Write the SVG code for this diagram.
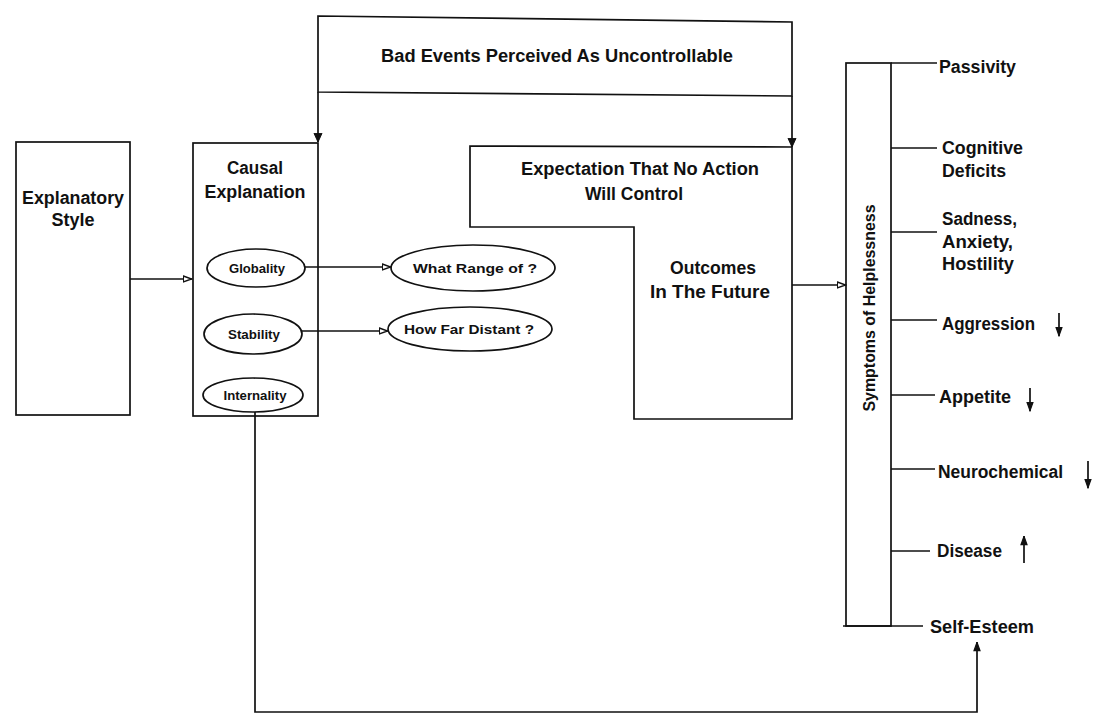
<svg xmlns="http://www.w3.org/2000/svg" width="1094" height="715" viewBox="0 0 1094 715">
<defs>
<style>
.ln{fill:none;stroke:#111;stroke-width:1.7}
.sh{fill:#fff;stroke:#111;stroke-width:1.7}
.t{font-family:"Liberation Sans",Arial,sans-serif;font-weight:bold;fill:#111}
.l{font-size:17.5px}
.m{font-size:16.5px}
.s{font-size:13px}
.c{text-anchor:middle}
</style>
<marker id="ah" viewBox="0 0 10 8" refX="9.5" refY="4" markerWidth="10" markerHeight="8" markerUnits="userSpaceOnUse" orient="auto">
<path d="M0.8,1 L9.2,4 L0.8,7 Z" fill="#fff" stroke="#111" stroke-width="1.4"/>
</marker>
<marker id="ahf" viewBox="0 0 10 10" refX="9.5" refY="5" markerWidth="10" markerHeight="10" markerUnits="userSpaceOnUse" orient="auto">
<path d="M0.8,1 L9.5,5 L0.8,9 Z" fill="#111" stroke="#111" stroke-width="1"/>
</marker>
<marker id="ahs" viewBox="0 0 10 8" refX="9.5" refY="4" markerWidth="10" markerHeight="8" markerUnits="userSpaceOnUse" orient="auto">
<path d="M0.8,1 L9.2,4 L0.8,7 Z" fill="#111" stroke="#111" stroke-width="1.2"/>
</marker>
</defs>
<rect width="1094" height="715" fill="#fff"/>

<g id="bad-events">
<path class="sh" d="M318,16 L792,22 L792,96 L318,92 Z"/>
<text class="t l c" x="557" y="62" textLength="352" lengthAdjust="spacingAndGlyphs">Bad Events Perceived As Uncontrollable</text>
</g>

<g id="explanatory-style">
<rect class="sh" x="16" y="142" width="114" height="273"/>
<text class="t l c" x="73" y="204" textLength="102" lengthAdjust="spacingAndGlyphs">Explanatory</text>
<text class="t l c" x="73" y="226" textLength="43" lengthAdjust="spacingAndGlyphs">Style</text>
</g>

<g id="causal-explanation">
<rect class="sh" x="193" y="143" width="125" height="273"/>
<text class="t l c" x="255" y="174" textLength="56" lengthAdjust="spacingAndGlyphs">Causal</text>
<text class="t l c" x="255" y="198" textLength="101" lengthAdjust="spacingAndGlyphs">Explanation</text>
</g>

<g id="globality">
<ellipse class="sh" cx="256" cy="268" rx="49" ry="19"/>
<text class="t s c" x="257" y="273" textLength="56" lengthAdjust="spacingAndGlyphs">Globality</text>
</g>
<g id="stability">
<ellipse class="sh" cx="253" cy="334" rx="49" ry="20"/>
<text class="t s c" x="254" y="339" textLength="52" lengthAdjust="spacingAndGlyphs">Stability</text>
</g>
<g id="internality">
<ellipse class="sh" cx="253" cy="395" rx="50" ry="17"/>
<text class="t s c" x="255" y="400" textLength="63" lengthAdjust="spacingAndGlyphs">Internality</text>
</g>

<g id="what-range">
<ellipse class="sh" cx="473" cy="268" rx="82" ry="23"/>
<text class="t s c" x="475" y="273" textLength="124" lengthAdjust="spacingAndGlyphs">What Range of ?</text>
</g>
<g id="how-far-distant">
<ellipse class="sh" cx="470" cy="329" rx="82" ry="22"/>
<text class="t s c" x="469" y="334" textLength="130" lengthAdjust="spacingAndGlyphs">How Far Distant ?</text>
</g>

<g id="expectation">
<path class="sh" d="M470,146 L792,147 L792,419 L634,419 L634,227 L470,227 Z"/>
<text class="t l c" x="640" y="175" textLength="238" lengthAdjust="spacingAndGlyphs">Expectation That No Action</text>
<text class="t l c" x="634" y="200" textLength="98" lengthAdjust="spacingAndGlyphs">Will Control</text>
<text class="t l c" x="713" y="274" textLength="86" lengthAdjust="spacingAndGlyphs">Outcomes</text>
<text class="t l c" x="710" y="298" textLength="120" lengthAdjust="spacingAndGlyphs">In The Future</text>
</g>

<g id="symptoms">
<rect class="ln" x="846" y="63" width="45" height="563"/>
<text class="t m c" x="875" y="308" transform="rotate(-90 875 308)" textLength="207" lengthAdjust="spacingAndGlyphs">Symptoms of Helplessness</text>
</g>

<g id="passivity">
<line class="ln" x1="891" y1="63" x2="937" y2="63"/>
<text class="t l" x="939" y="73" textLength="77" lengthAdjust="spacingAndGlyphs">Passivity</text>
</g>
<g id="cognitive-deficits">
<line class="ln" x1="891" y1="148" x2="937" y2="148"/>
<text class="t l" x="942" y="154" textLength="81" lengthAdjust="spacingAndGlyphs">Cognitive</text>
<text class="t l" x="942" y="177" textLength="64" lengthAdjust="spacingAndGlyphs">Deficits</text>
</g>
<g id="sadness">
<line class="ln" x1="891" y1="232" x2="937" y2="232"/>
<text class="t l" x="942" y="225" textLength="75" lengthAdjust="spacingAndGlyphs">Sadness,</text>
<text class="t l" x="942" y="248" textLength="71" lengthAdjust="spacingAndGlyphs">Anxiety,</text>
<text class="t l" x="942" y="270" textLength="72" lengthAdjust="spacingAndGlyphs">Hostility</text>
</g>
<g id="aggression">
<line class="ln" x1="891" y1="320" x2="937" y2="320"/>
<text class="t l" x="942" y="330" textLength="93" lengthAdjust="spacingAndGlyphs">Aggression</text>
</g>
<g id="appetite">
<line class="ln" x1="891" y1="395" x2="935" y2="395"/>
<text class="t l" x="939" y="403" textLength="72" lengthAdjust="spacingAndGlyphs">Appetite</text>
</g>
<g id="neurochemical">
<line class="ln" x1="891" y1="469" x2="935" y2="469"/>
<text class="t l" x="938" y="478" textLength="125" lengthAdjust="spacingAndGlyphs">Neurochemical</text>
</g>
<g id="disease">
<line class="ln" x1="891" y1="551" x2="930" y2="551"/>
<text class="t l" x="937" y="557" textLength="65" lengthAdjust="spacingAndGlyphs">Disease</text>
</g>
<g id="self-esteem">
<line class="ln" x1="843" y1="626" x2="923" y2="626"/>
<text class="t l" x="930" y="633" textLength="104" lengthAdjust="spacingAndGlyphs">Self-Esteem</text>
</g>

<g id="connectors">
<path class="ln" d="M318,92 L318,142" marker-end="url(#ahf)"/>
<path class="ln" d="M792,96 L792,147" marker-end="url(#ahf)"/>
<path class="ln" d="M130,279 L192,279" marker-end="url(#ah)"/>
<path class="ln" d="M305,267 L391,267" marker-end="url(#ah)"/>
<path class="ln" d="M302,331 L388,331" marker-end="url(#ah)"/>
<path class="ln" d="M792,285 L846,285" marker-end="url(#ah)"/>
<path class="ln" d="M255,412 L255,712 L977,712 L977,642" marker-end="url(#ahs)"/>
<path class="ln" d="M1059,313 L1059,336" marker-end="url(#ahs)"/>
<path class="ln" d="M1030,388 L1030,411" marker-end="url(#ahs)"/>
<path class="ln" d="M1088,461 L1088,488" marker-end="url(#ahs)"/>
<path class="ln" d="M1024,563 L1024,536" marker-end="url(#ahs)"/>
</g>
</svg>
